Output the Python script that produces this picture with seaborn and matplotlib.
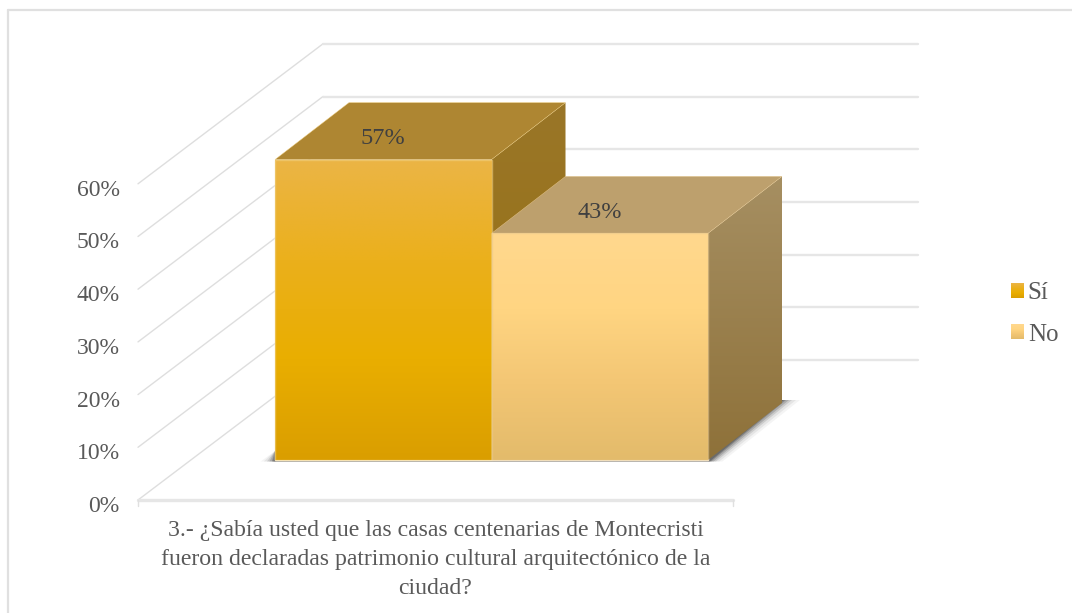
import numpy as np
import pandas as pd
import matplotlib
matplotlib.use('Agg')
import matplotlib.pyplot as plt
import seaborn as sns
from matplotlib.colors import LinearSegmentedColormap
from matplotlib.image import BboxImage
from matplotlib.lines import Line2D
from matplotlib.patches import Polygon, Rectangle
from matplotlib.transforms import ScaledTranslation

pregunta = ['3.- ¿Sabía usted que las casas centenarias de Montecristi\n'
            'fueron declaradas patrimonio cultural arquitectónico de la\n'
            'ciudad?']
respuestas = ['Sí', 'No']
porcentajes = [57, 43]
ticks = [0, 10, 20, 30, 40, 50, 60]

# pixeles por unidad de datos y profundidad del dibujo 3D
PX_X = 541.25
PX_Y = 5.27
DEPTH_X = 185 / PX_X
DEPTH_Y = 140 / PX_Y
BAR_DX = 74 / PX_X
BAR_DY = 57 / PX_Y
FRONT_Y = -40 / PX_Y
FLOOR_L = (138 - 491.5) / PX_X
FLOOR_R = (733 - 491.5) / PX_X

FRONT = [['#EBB546', '#EBB01C', '#E9AE00', '#DA9E00'],
         ['#FFD88E', '#FFD582', '#F3C674', '#E3BB6B']]
TOP = ['#AE8632', '#BDA06D']
SIDE = [['#9A7628', '#96700F'], ['#A68F62', '#8E7139']]
EDGE = ['#F0CF80', '#E8C88E']
TEXT = '#595959'

sns.set_theme(style='white')
plt.rcParams['font.family'] = ['Liberation Serif', 'DejaVu Serif']

fig = plt.figure(figsize=(10.72, 6.13), dpi=100)
ax = fig.add_axes([128 / 1072, 113 / 613, 944 / 1072, 500 / 613])

df = pd.DataFrame({'pregunta': pregunta * 2, 'respuesta': respuestas, 'pct': porcentajes})
sns.barplot(data=df, x='pregunta', y='pct', hue='respuesta', hue_order=respuestas,
            palette=[c[2] for c in FRONT], width=0.8, gap=0, ax=ax, legend=True, zorder=3)


def shade(pts, colores, z):
    # poligono con degradado vertical
    pts = np.array(pts)
    cmap = LinearSegmentedColormap.from_list('g', colores)
    im = ax.imshow(np.linspace(0, 1, 256).reshape(-1, 1), cmap=cmap, aspect='auto', origin='upper',
                   extent=(pts[:, 0].min(), pts[:, 0].max(), pts[:, 1].min(), pts[:, 1].max()),
                   zorder=z, interpolation='bilinear')
    im.set_clip_path(Polygon(pts, transform=ax.transData))


xlim = (128 - 491.5) / PX_X, (1072 - 491.5) / PX_X
ylim = FRONT_Y, 460 / PX_Y

# paredes: lineas de cuadricula
for t in ticks:
    yf = t + FRONT_Y
    yb = yf + DEPTH_Y
    ax.plot([FLOOR_L, FLOOR_L + DEPTH_X], [yf, yb], color='#DEDEDE', lw=1.0, zorder=1, clip_on=False)
    ax.plot([FLOOR_L + DEPTH_X, FLOOR_R + DEPTH_X], [yb, yb], color='#E6E6E6', lw=1.7, zorder=1)

ax.plot([FLOOR_L, FLOOR_R], [FRONT_Y, FRONT_Y], color='#E6E6E6', lw=2.4, zorder=1, clip_on=False)
for xf in (FLOOR_L, FLOOR_R):
    ax.plot([xf, xf], [FRONT_Y, FRONT_Y - 6 / PX_Y], color='#E0E0E0', lw=1.0, zorder=1, clip_on=False)

bars = [p for p in ax.patches if isinstance(p, Rectangle) and p.get_height() > 0]
bars = sorted(bars, key=lambda p: p.get_x())

# sombra en el suelo
x0, x1 = bars[0].get_x(), bars[-1].get_x() + bars[-1].get_width()
for grow, alpha in zip([18, 14, 10, 7, 4, 2], [0.05, 0.08, 0.14, 0.2, 0.28, 0.35]):
    ax.add_patch(Polygon([(x0 - grow * 0.8 / PX_X, -1.5 / PX_Y),
                          (x0, 9 / PX_Y),
                          (x1 + BAR_DX, 60 / PX_Y),
                          (x1 + BAR_DX + grow / PX_X, 60 / PX_Y),
                          (x1 + grow * 0.8 / PX_X, -1.5 / PX_Y)],
                         facecolor='#333333', alpha=alpha, edgecolor='none', zorder=2))

for i, bar in enumerate(bars):
    x, w, h = bar.get_x(), bar.get_width(), bar.get_height()
    z = 3 + i * 2
    bar.set_zorder(z)
    shade([(x + w, 0), (x + w + BAR_DX, BAR_DY), (x + w + BAR_DX, h + BAR_DY), (x + w, h)], SIDE[i], z)
    ax.add_patch(Polygon([(x, h), (x + BAR_DX, h + BAR_DY), (x + w + BAR_DX, h + BAR_DY), (x + w, h)],
                         facecolor=TOP[i], edgecolor=EDGE[i], lw=0.3, zorder=z + 0.1))
    shade([(x, 0), (x, h), (x + w, h), (x + w, 0)], FRONT[i], z + 0.2)
    ax.add_patch(Rectangle((x, 0), w, h, facecolor='none', edgecolor=EDGE[i], lw=1.0, alpha=0.6, zorder=z + 0.3))
    ax.annotate(f'{h:.0f}%', (x + w / 2, h), xytext=(0, 21), textcoords='offset pixels',
                ha='center', va='center', fontsize=17.5, color='#404040', zorder=10)

ax.set_xlim(xlim)
ax.set_ylim(ylim)
ax.set_xlabel('')
ax.set_ylabel('')
ax.set_yticks([t + FRONT_Y for t in ticks], [f'{t}%' for t in ticks])
ax.set_xticks([(FLOOR_L + FLOOR_R) / 2], pregunta)
ax.tick_params(axis='y', length=0, pad=6, labelsize=17, labelcolor=TEXT)
ax.tick_params(axis='x', length=0, pad=14.5, labelsize=17.1, labelcolor=TEXT)
for lab in ax.get_yticklabels():
    lab.set_transform(lab.get_transform() + ScaledTranslation(0, -4 / 100, fig.dpi_scale_trans))
for lab in ax.get_xticklabels():
    lab.set_linespacing(1.5)
ax.set_facecolor('none')
sns.despine(ax=ax, left=True, bottom=True)

leg = ax.legend(loc='center left', bbox_to_anchor=((1011 - 128) / 944, 1 - 314 / 500),
                frameon=False, fontsize=18, handlelength=0.52, handleheight=0.52, handletextpad=0.15,
                labelspacing=0.78, labelcolor=TEXT, borderpad=0, borderaxespad=0)

# marco del grafico: solo arriba e izquierda
fig.add_artist(Line2D([8 / 1072, 1], [603 / 613, 603 / 613], color='#E0E0E0', lw=1.6))
fig.add_artist(Line2D([8 / 1072, 8 / 1072], [0, 603 / 613], color='#E0E0E0', lw=1.6))

# degradado en la leyenda
fig.canvas.draw()
for i, handle in enumerate(leg.get_patches()):
    cmap = LinearSegmentedColormap.from_list('g', FRONT[i])
    img = BboxImage(handle.get_window_extent(), cmap=cmap, zorder=20)
    img.set_data(np.linspace(0, 1, 32).reshape(-1, 1))
    fig.add_artist(img)

fig.savefig('out.png', dpi=100)
